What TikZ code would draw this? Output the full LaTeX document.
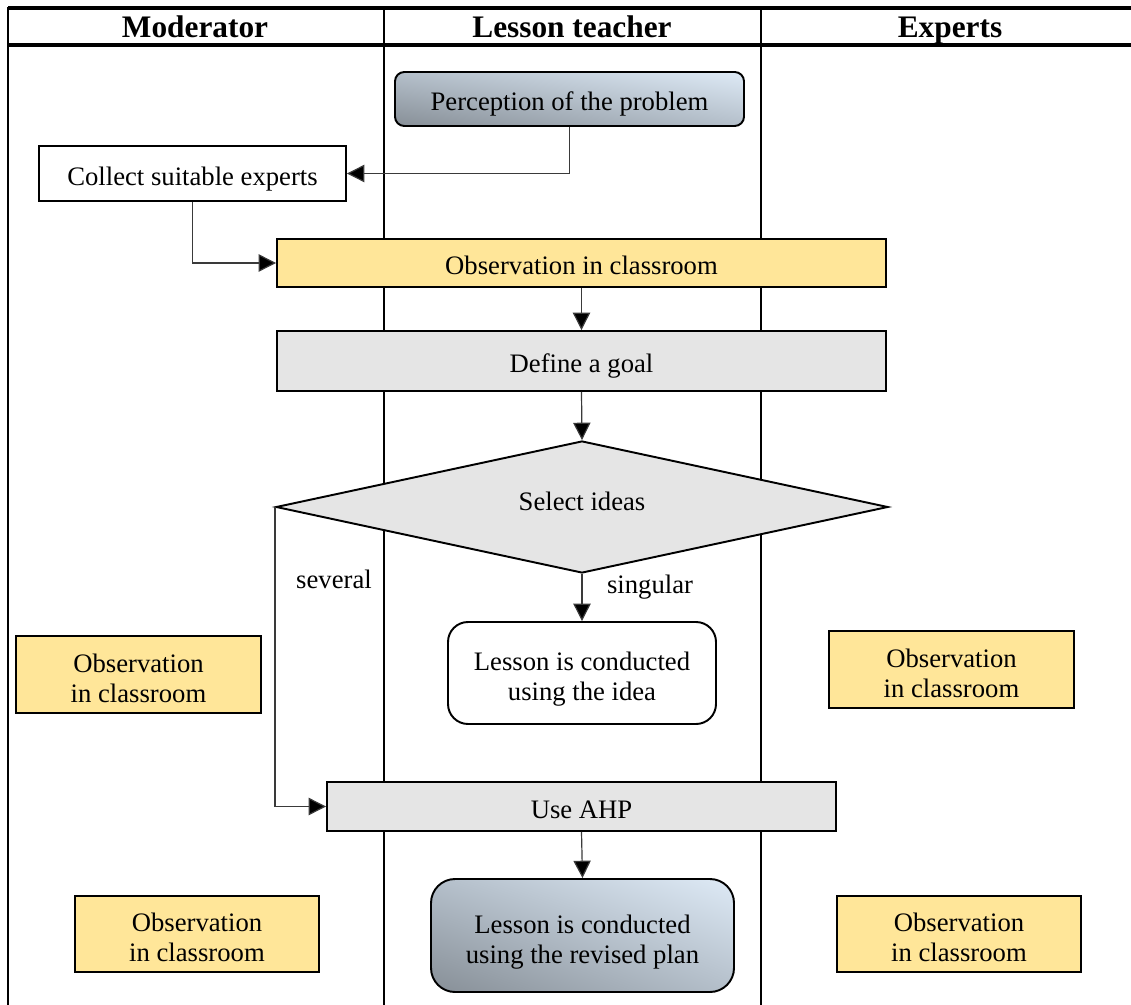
\documentclass[tikz,border=0pt]{standalone}
\usepackage{fontspec}
\setmainfont{Liberation Serif}
\usetikzlibrary{shapes.geometric,arrows.meta,shadings}
\definecolor{obsyellow}{HTML}{FFE699}
\definecolor{boxgray}{HTML}{E5E5E5}
\definecolor{shdark}{HTML}{878F97}
\definecolor{shlight}{HTML}{DEEAF6}
\definecolor{shmid}{HTML}{B4BFCA}
\definecolor{arrowgray}{HTML}{3A3A3A}
\begin{document}
\begin{tikzpicture}[x=0.75pt,y=-0.75pt,
  every node/.style={font=\fontsize{20}{22.5}\selectfont, align=center, inner sep=0pt},
  one/.style={text height=17.5pt, text depth=0pt},
  two/.style={text height=41.25pt, text depth=0pt},
  box/.style={draw=black, line width=1.45pt},
  yellowbox/.style={box, fill=obsyellow},
  graybox/.style={box, fill=boxgray},
  whitebox/.style={box, fill=white},
  gradbox/.style={box, lower left=shdark, upper right=shlight, upper left=shmid, lower right=shmid},
  header/.style={font=\fontsize{23.5}{28}\selectfont\bfseries, text height=16pt, text depth=0pt},
  lane/.style={line width=1.5pt},
  rule/.style={line width=2.4pt},
  conn/.style={draw=arrowgray, line width=0.9pt, -{Triangle[length=13pt,width=13pt,fill=black]}},
  lbl/.style={}
]
\useasboundingbox (0,0) rectangle (1131,1005);
% table
\coordinate (tl) at (8,8);
\coordinate (tr) at (1131,8);
\coordinate (hl) at (8,45);
\coordinate (hr) at (1131,45);
\coordinate (l1t) at (8,7);   \coordinate (l1b) at (8,1005);
\coordinate (l2t) at (384,8); \coordinate (l2b) at (384,1005);
\coordinate (l3t) at (761,8); \coordinate (l3b) at (761,1005);
\draw[lane] (l1t) -- (l1b);
\draw[lane] (l2t) -- (l2b);
\draw[lane] (l3t) -- (l3b);
\draw[rule] (tl) -- (tr);
\draw[rule] (hl) -- (hr);
\node[header] (hmod) at (195,27) {Moderator};
\node[header] (hles) at (572,27) {Lesson teacher};
\node[header] (hexp) at (950,27) {Experts};

% boxes
\node[gradbox, one, rounded corners=7pt, minimum width=349*0.75pt, minimum height=54*0.75pt] (perc) at (569.5,99) {Perception of the problem};
\node[whitebox, one, minimum width=307*0.75pt, minimum height=55*0.75pt] (coll) at (192.5,173.5) {Collect suitable experts};
\node[yellowbox, one, minimum width=609*0.75pt, minimum height=48*0.75pt] (obs) at (581.5,263) {Observation in classroom};
\node[graybox, one, minimum width=609*0.75pt, minimum height=60*0.75pt] (goal) at (581.5,361) {Define a goal};
\node[graybox, diamond, text height=5pt, text depth=0pt, shape aspect=4.64, minimum width=612*0.75pt, minimum height=132*0.75pt] (dia) at (582,507) {Select ideas};
\node[whitebox, two, rounded corners=15pt, minimum width=268*0.75pt, minimum height=102*0.75pt] (idea) at (582,673) {Lesson is conducted\\using the idea};
\node[graybox, one, minimum width=509*0.75pt, minimum height=49*0.75pt] (ahp) at (581.5,806.5) {Use AHP};
\node[gradbox, two, rounded corners=18pt, minimum width=303*0.75pt, minimum height=113*0.75pt] (rev) at (582.5,935.5) {Lesson is conducted\\using the revised plan};
\node[yellowbox, two, minimum width=245*0.75pt, minimum height=77*0.75pt] (oml) at (138.5,674.5) {Observation\\in classroom};
\node[yellowbox, two, minimum width=245*0.75pt, minimum height=77*0.75pt] (omr) at (951.5,669.5) {Observation\\in classroom};
\node[yellowbox, two, minimum width=244*0.75pt, minimum height=76*0.75pt] (obl) at (197,934) {Observation\\in classroom};
\node[yellowbox, two, minimum width=244*0.75pt, minimum height=76*0.75pt] (obr) at (959,934) {Observation\\in classroom};

% connectors
\draw[conn] (perc.south) |- (coll.east);
\draw[conn] (coll.south) |- (obs.west);
\draw[conn] (obs.south) -- (goal.north);
\draw[conn] (goal.south) -- (dia.north);
\draw[conn] (dia.south) -- (idea.north);
\draw[conn] (dia.west) |- (ahp.west);
\draw[conn] (ahp.south) -- (rev.north);

% labels
\node[lbl, one] (lsev) at (334,577) {several};
\node[lbl, one] (lsing) at (650,582) {singular};
\end{tikzpicture}
\end{document}
